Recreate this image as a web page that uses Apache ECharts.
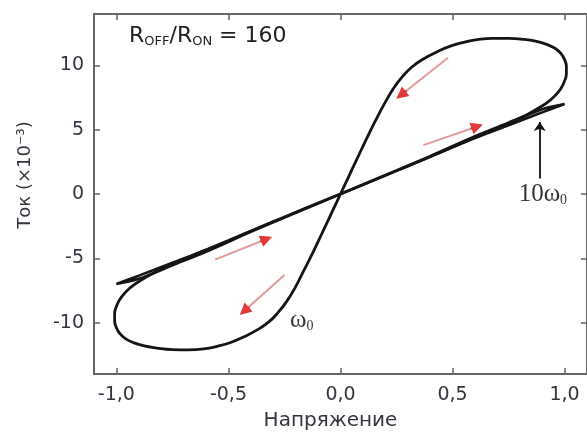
<!DOCTYPE html>
<html>
<head>
<meta charset="utf-8">
<script src="https://cdn.jsdelivr.net/npm/echarts@6/dist/echarts.min.js"></script>
<style>
  html, body { margin: 0; padding: 0; background: #fff; }
  #chart { width: 587px; height: 437px; }
</style>
</head>
<body>
<div id="chart"></div>
<script>
// ω0 loop: along the line to +1, round the top lobe, steep through 0, bottom lobe, back
var w0X = [0, 0.1, 0.2, 0.3, 0.4, 0.5, 0.58, 0.65, 0.71, 0.77, 0.83, 0.88, 0.925, 0.96, 0.985, 1.0, 1.008, 1.008, 1.0, 0.985, 0.96, 0.925, 0.88, 0.82, 0.75, 0.68, 0.61, 0.55, 0.49, 0.43, 0.37, 0.32, 0.28, 0.24, 0.2, 0.165, 0.13, 0.1, 0.07, 0.035, 0,
           -0.035, -0.07, -0.1, -0.13, -0.165, -0.2, -0.24, -0.28, -0.32, -0.37, -0.43, -0.49, -0.55, -0.61, -0.68, -0.75, -0.82, -0.88, -0.925, -0.96, -0.985, -1.0, -1.008, -1.008, -1.0, -0.985, -0.96, -0.925, -0.88, -0.83, -0.77, -0.71, -0.65, -0.58, -0.5, -0.4, -0.3, -0.2, -0.1, 0];
var w0Y = [0, 0.72, 1.45, 2.17, 2.9, 3.65, 4.25, 4.75, 5.2, 5.65, 6.15, 6.65, 7.15, 7.7, 8.25, 8.8, 9.35, 9.9, 10.45, 10.9, 11.3, 11.6, 11.85, 12.02, 12.1, 12.1, 12.0, 11.8, 11.5, 11.05, 10.5, 9.9, 9.2, 8.3, 7.15, 6.0, 4.8, 3.7, 2.6, 1.3, 0,
           -1.3, -2.6, -3.7, -4.8, -6.0, -7.2, -8.35, -9.25, -9.95, -10.55, -11.1, -11.55, -11.85, -12.05, -12.12, -12.1, -11.98, -11.8, -11.55, -11.25, -10.85, -10.4, -9.85, -9.3, -8.75, -8.2, -7.65, -7.1, -6.6, -6.1, -5.6, -5.15, -4.7, -4.2, -3.62, -2.88, -2.15, -1.43, -0.7, 0];

// 10ω0: almost straight, very thin loop
var w10X = [0, 0.2, 0.4, 0.6, 0.75, 0.9, 1.0, 0.9, 0.75, 0.6, 0.4, 0.2, 0, -0.2, -0.4, -0.6, -0.75, -0.9, -1.0, -0.9, -0.75, -0.6, -0.4, -0.2, 0];
var w10Y = [0, 1.45, 2.9, 4.35, 5.35, 6.35, 7.0, 6.6, 5.55, 4.5, 2.95, 1.47, 0, -1.45, -2.9, -4.35, -5.35, -6.35, -7.0, -6.6, -5.55, -4.5, -2.95, -1.47, 0];

var xTicks = [-1, -0.5, 0, 0.5, 1];
var yTicks = [-10, -5, 0, 5, 10];

// red direction arrows [x1, y1, x2, y2]
var redArrows = [
    [0.48, 10.6, 0.27, 7.7],
    [0.37, 3.8, 0.61, 5.25],
    [-0.56, -5.1, -0.33, -3.5],
    [-0.25, -6.3, -0.43, -9.1]
];
// black pointer to 10ω0
var blackArrow = [0.889, 1.2, 0.889, 5.6];

function zip(xs, ys) {
    var out = [];
    for (var i = 0; i < xs.length; i++) out.push([xs[i], ys[i]]);
    return out;
}

var axisCol = '#666';
var labelCol = '#353540';
var sansFont = '"DejaVu Sans", "Noto Sans", sans-serif';
var serifFont = '"Liberation Serif", "DejaVu Serif", serif';

var chart = echarts.init(document.getElementById('chart'));
var option = {
    backgroundColor: '#fff',
    animation: false,
    grid: { left: 94, top: 14, bottom: 63, right: -4 },
    xAxis: [
        {
            type: 'value', min: -1.1, max: 1.1, position: 'bottom',
            name: 'Напряжение', nameLocation: 'middle', nameGap: 37,
            nameTextStyle: { fontFamily: sansFont, fontSize: 20, color: labelCol, padding: [0, 20, 0, 0] },
            axisLine: { onZero: false, lineStyle: { color: axisCol, width: 2 } },
            axisTick: { inside: true, length: 6, customValues: xTicks, lineStyle: { color: axisCol, width: 1.5 } },
            axisLabel: {
                customValues: xTicks, margin: 12, fontFamily: sansFont, fontSize: 19, color: labelCol,
                formatter: function (v) { return v.toFixed(1).replace('.', ','); }
            },
            splitLine: { show: false }
        },
        {
            type: 'value', min: -1.1, max: 1.1, position: 'top',
            axisLine: { onZero: false, lineStyle: { color: axisCol, width: 2 } },
            axisTick: { inside: true, length: 6, customValues: xTicks, lineStyle: { color: axisCol, width: 1.5 } },
            axisLabel: { show: false },
            splitLine: { show: false }
        }
    ],
    yAxis: [
        {
            type: 'value', min: -14, max: 14, position: 'left',
            name: 'Ток (×10⁻³)', nameLocation: 'middle', nameGap: 60, nameRotate: 90,
            nameTextStyle: { fontFamily: sansFont, fontSize: 18, color: labelCol, padding: [0, 0, 0, 38] },
            axisLine: { onZero: false, lineStyle: { color: axisCol, width: 2 } },
            axisTick: { inside: true, length: 6, customValues: yTicks, lineStyle: { color: axisCol, width: 1.5 } },
            axisLabel: { customValues: yTicks, margin: 10, fontFamily: sansFont, fontSize: 19, color: labelCol },
            splitLine: { show: false }
        },
        {
            type: 'value', min: -14, max: 14, position: 'right',
            axisLine: { onZero: false, lineStyle: { color: axisCol, width: 2 } },
            axisTick: { inside: true, length: 6, customValues: yTicks, lineStyle: { color: axisCol, width: 1.5 } },
            axisLabel: { show: false },
            splitLine: { show: false }
        }
    ],
    series: [
        {
            name: '10ω0', type: 'line', data: zip(w10X, w10Y), showSymbol: false, smooth: 0.3,
            lineStyle: { color: '#151515', width: 2.6 }
        },
        {
            name: 'ω0', type: 'line', data: zip(w0X, w0Y), showSymbol: false, smooth: 0.5,
            lineStyle: { color: '#151515', width: 2.8 }
        },
        {
            // faded arrow shafts
            type: 'lines', coordinateSystem: 'cartesian2d', xAxisIndex: 0, yAxisIndex: 0,
            symbol: 'none',
            lineStyle: { color: '#e49a9a', width: 2, opacity: 1 },
            data: redArrows.map(function (a) { return { coords: [[a[0], a[1]], [a[2], a[3]]] }; })
        },
        {
            // solid red heads: short final piece of each arrow
            type: 'lines', coordinateSystem: 'cartesian2d', xAxisIndex: 0, yAxisIndex: 0,
            symbol: ['none', 'triangle'], symbolSize: 12,
            lineStyle: { color: '#e0393b', width: 2, opacity: 1 },
            data: redArrows.map(function (a) {
                var k = 0.12;
                return { coords: [[a[2] - (a[2] - a[0]) * k, a[3] - (a[3] - a[1]) * k], [a[2], a[3]]] };
            })
        },
        {
            type: 'lines', coordinateSystem: 'cartesian2d', xAxisIndex: 0, yAxisIndex: 0,
            symbol: ['none', 'arrow'], symbolSize: 9,
            lineStyle: { color: '#111', width: 1.8, opacity: 1 },
            data: [{ coords: [[blackArrow[0], blackArrow[1]], [blackArrow[2], blackArrow[3]]] }]
        },
        {
            type: 'scatter', symbolSize: 0, silent: true,
            label: {
                show: true, position: 'right', distance: 0,
                formatter: function (p) { return p.data[2]; },
                rich: {
                    w: { fontFamily: serifFont, fontSize: 25, color: '#000', lineHeight: 26 },
                    s: { fontFamily: serifFont, fontSize: 14, color: '#000', lineHeight: 13, verticalAlign: 'bottom' }
                }
            },
            data: [
                [0.795, 0.0, '{w|10ω}{s|0}'],
                [-0.225, -9.8, '{w|ω}{s|0}']
            ]
        }
    ],
    graphic: [
        {
            type: 'text', left: 129, top: 25,
            style: {
                rich: {
                    a: { fontFamily: sansFont, fontSize: 22, fill: '#222', lineHeight: 25 },
                    s: { fontFamily: sansFont, fontSize: 13, fill: '#222', lineHeight: 13, verticalAlign: 'bottom' }
                },
                text: '{a|R}{s|OFF}{a|/R}{s|ON}{a| = 160}'
            }
        }
    ]
};
chart.setOption(option);
</script>
</body>
</html>
